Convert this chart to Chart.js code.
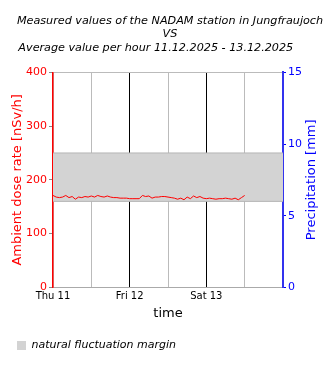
<!DOCTYPE html>
<html><head><meta charset="utf-8">
<script src="https://cdn.jsdelivr.net/npm/chart.js@4"></script>
<style>html,body{margin:0;padding:0;background:#fff;}#c{display:block;}</style>
</head><body>
<canvas id="c" width="330" height="370"></canvas>
<script>
const titleLines = ['Measured values of the NADAM station in Jungfraujoch', 'VS', 'Average value per hour 11.12.2025 - 13.12.2025        '];
const dayLabels = ['Thu 11', 'Fri 12', 'Sat 13'];
const dayTickHours = [0, 24, 48];
const doseRate = [171,168,167,168,171,167,169,164,168,167,169,168,170,168,171,169,168,170,168,167,167,166,166,166,165,
  165,165,165,171,169,170,166,168,168,169,169,168,167,166,164,166,163,168,165,170,167,169,166,165,
  166,165,164,165,165,166,165,164,166,163,167,171];
const marginLow = 160;
const marginHigh = 250;
const precipitation = [];
const spanHours = 72;
const rightAxisTitle = 'Precipitation [mm]';

Chart.defaults.font.family = 'DejaVu Sans';

const rightTitlePlugin = {
  id: 'rightTitle',
  afterDraw(chart) {
    const s = chart.scales.y1, c = chart.ctx;
    c.save();
    c.font = '13px "DejaVu Sans"';
    c.fillStyle = '#0000ff';
    c.textAlign = 'center';
    c.textBaseline = 'middle';
    c.translate(312, (s.top + s.bottom) / 2);
    c.rotate(-Math.PI / 2);
    c.fillText(rightAxisTitle, 0, 0);
    c.restore();
  }
};

const ctx = document.getElementById('c');
new Chart(ctx, {
  type: 'line',
  data: {
    datasets: [
      { label: 'band-top', data: [{x:0,y:marginHigh},{x:spanHours,y:marginHigh}], borderColor: '#b4b4b4', borderWidth: 1, pointRadius: 0, fill: false, yAxisID: 'y', order: 3 },
      { label: 'natural fluctuation margin', data: [{x:0,y:marginLow},{x:spanHours,y:marginLow}], borderColor: '#b4b4b4', backgroundColor: '#d3d3d3', borderWidth: 1, pointRadius: 0, fill: '-1', yAxisID: 'y', order: 3 },
      { label: 'dose', data: doseRate.map((v,i)=>({x:i,y:v})), borderColor: '#ff0000', borderWidth: 1, pointRadius: 0, tension: 0, fill: false, yAxisID: 'y', order: 1 },
      { label: 'precip', data: precipitation, borderColor: '#0000ff', pointRadius: 0, yAxisID: 'y1' }
    ]
  },
  plugins: [rightTitlePlugin],
  options: {
    responsive: false, animation: false,
    layout: { padding: { left: 10, right: 0, top: 0, bottom: 9 } },
    plugins: {
      title: { display: true, text: titleLines, color: '#000', font: { size: 11.2, style: 'italic', weight: 'normal' }, padding: { top: 14, bottom: 18 }, lineHeight: 1.2 },
      legend: { position: 'bottom', align: 'start',
        labels: { boxWidth: 9, boxHeight: 9, padding: 7, color: '#000', font: { size: 11, style: 'italic' },
          generateLabels: (chart) => [{ text: 'natural fluctuation margin', fillStyle: '#d3d3d3', strokeStyle: '#d3d3d3', lineWidth: 0, datasetIndex: 1 }] } },
      tooltip: { enabled: false }
    },
    scales: {
      x: { type: 'linear', min: 0, max: spanHours,
        afterBuildTicks: (s) => { s.ticks = [0,12,24,36,48,60,72].map(v=>({value:v})); },
        ticks: { autoSkip: false, maxRotation: 0, color: '#000', font: { size: 10 }, padding: 3,
          callback: (v) => { const k = dayTickHours.indexOf(v); return k >= 0 ? dayLabels[k] : ''; } },
        grid: { color: (c) => (c.tick && c.tick.value % 24 === 0 && c.tick.value !== 0 && c.tick.value !== spanHours) ? '#000' : '#bbbbbb', drawTicks: false, lineWidth: 1 },
        border: { color: '#aaaaaa' },
        title: { display: true, text: 'time', color: '#000', font: { size: 13 }, padding: { top: 0, bottom: 12 } }
      },
      y: { position: 'left', min: 0, max: 400,
        ticks: { stepSize: 100, color: '#ff0000', font: { size: 11 }, padding: 2 },
        grid: { color: (c) => (c.tick && c.tick.value === 400) ? '#bbbbbb' : 'rgba(0,0,0,0)', tickColor: '#888', tickLength: 4 },
        border: { color: '#ff0000', width: 1.5 },
        title: { display: true, text: 'Ambient dose rate [nSv/h]', color: '#ff0000', font: { size: 13 }, padding: { top: 0, bottom: 2 } },
        afterFit: (s) => { s.width = 43; }
      },
      y1: { position: 'right', min: 0, max: 15,
        ticks: { stepSize: 5, color: '#0000ff', font: { size: 11 }, padding: 2 },
        grid: { drawOnChartArea: false, tickColor: '#0000ff', tickLength: 3 },
        border: { color: '#3333ee', width: 2 },
        title: { display: false },
        afterFit: (s) => { s.width = 47; }
      }
    }
  }
});
</script>
</body></html>
